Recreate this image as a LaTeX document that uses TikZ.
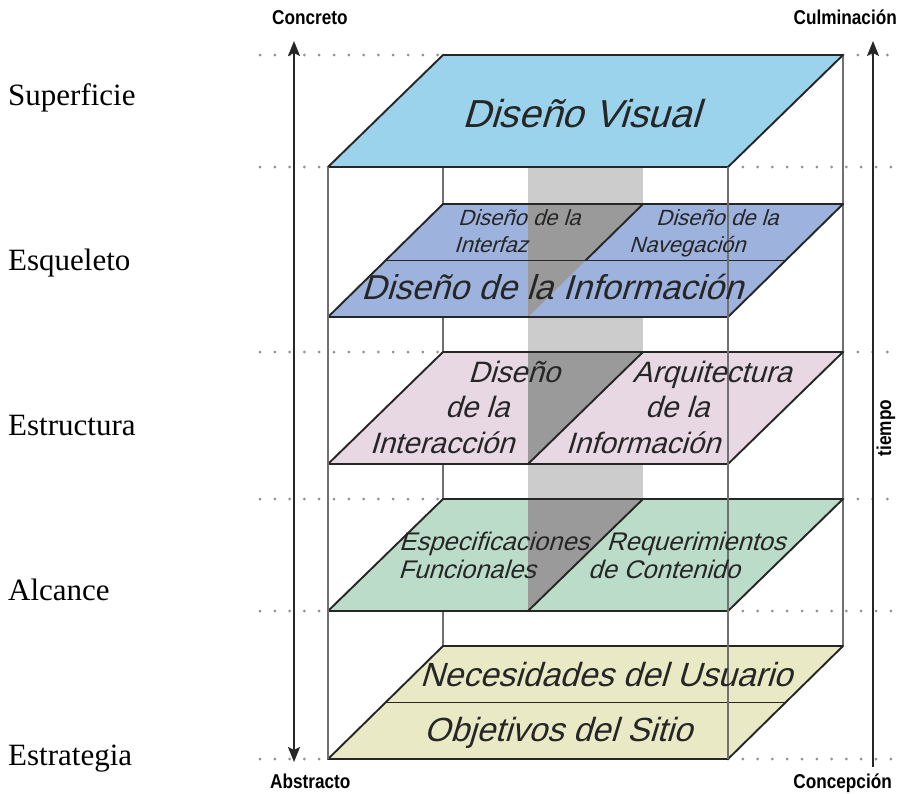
\documentclass[tikz,border=0pt]{standalone}
\usepackage{fontspec}
\setmainfont{Liberation Serif}
\newfontfamily\planefont{Liberation Sans}[FakeSlant=0.3]
\newfontfamily\tagfont{Liberation Sans}[FakeStretch=0.86]
\usetikzlibrary{arrows.meta,calc}

\definecolor{visualblue}{HTML}{9CD3EC}
\definecolor{skelblue}{HTML}{9DB2DC}
\definecolor{structpink}{HTML}{E8D8E3}
\definecolor{scopegreen}{HTML}{BBDCC8}
\definecolor{stratyellow}{HTML}{E9EAC5}
\definecolor{bandgray}{HTML}{CCCCCC}
\definecolor{shadegray}{HTML}{9A9A9A}
\definecolor{edgeink}{HTML}{262626}
\definecolor{wiregray}{HTML}{707070}
\definecolor{dotgray}{HTML}{8E8E8E}

\newcommand\sz[1]{\fontsize{#1}{#1}\selectfont}

% one horizontal layer of the box: name, top y, bottom y, fill colour
\newcommand\layer[4]{%
  \coordinate (#1-tl) at (443,#2);
  \coordinate (#1-tr) at (843,#2);
  \coordinate (#1-br) at (728,#3);
  \coordinate (#1-bl) at (328,#3);
  \coordinate (#1-tm) at (643,#2);
  \coordinate (#1-bm) at (528,#3);
  \coordinate (#1-ml) at ($(#1-tl)!0.5!(#1-bl)$);
  \coordinate (#1-mr) at ($(#1-tr)!0.5!(#1-br)$);
  \coordinate (#1-mm) at ($(#1-tm)!0.5!(#1-bm)$);
  \fill[#4] (#1-tl) -- (#1-tr) -- (#1-br) -- (#1-bl) -- cycle;
}

\begin{document}
\begin{tikzpicture}[x=1pt,y=-1pt,
  planeedge/.style={draw=edgeink,line width=1.9pt,line join=round},
  wire/.style={draw=wiregray,line width=1.4pt},
  levelguide/.style={draw=dotgray,line width=3pt,line cap=round,dash pattern=on 0pt off 14.8pt},
  ptext/.style={inner sep=0pt,anchor=base,font=\planefont,text=edgeink},
  sidelabel/.style={inner sep=0pt,anchor=base west,font=\sz{31}},
  endlabel/.style={inner sep=0pt,font=\tagfont\bfseries\sz{20}},
  axtip/.tip={Stealth[length=15pt,width=12pt,inset=3pt]},
  axis/.style={draw=edgeink,line width=1.9pt},
]
\fill[white] (0,0) rectangle (901,793);
\useasboundingbox (0,0) rectangle (901,793);

\coordinate (guideL) at (260,0);
\coordinate (guideR) at (901,0);

% layer geometry and fills
\layer{vis}{55}{167}{visualblue}
\layer{skel}{204}{317}{skelblue}
\layer{struct}{352}{464}{structpink}
\layer{scope}{499}{611}{scopegreen}
\layer{strat}{646}{759}{stratyellow}

% dotted level guides
\foreach \lv/\lc/\rc in {vis-tl/vis-tl/vis-tr, vis-bl/vis-bl/vis-br,
    struct-tl/struct-tl/struct-tr, scope-tl/scope-tl/scope-tr,
    scope-bl/scope-bl/scope-br, strat-bl/strat-bl/strat-br}{
  \draw[levelguide] (\lv -| guideL) -- (\lc);
  \draw[levelguide] (\rc) -- (\lv -| guideR);
}

% back edges of the box
\draw[wire] (vis-tl) -- (strat-tl);
\draw[wire] (vis-tr) -- (strat-tr);

% vertical band crossing the upper layers
\fill[bandgray] (vis-bm) rectangle (scope-tm |- scope-bm);

% layers redrawn over the band
\foreach \nm/\col in {vis/visualblue, skel/skelblue, struct/structpink, scope/scopegreen, strat/stratyellow}{
  \fill[\col] (\nm-tl) -- (\nm-tr) -- (\nm-br) -- (\nm-bl) -- cycle;
}
% shaded part where the band passes through a layer
\foreach \nm in {skel, struct, scope}{
  \fill[shadegray] (\nm-bm |- \nm-tm) -- (\nm-tm) -- (\nm-bm) -- cycle;
}

% outlines and inner divisions
\foreach \nm in {vis, skel, struct, scope, strat}{
  \draw[planeedge] (\nm-tl) -- (\nm-tr) -- (\nm-br) -- (\nm-bl) -- cycle;
}
\draw[planeedge] (skel-ml) -- (skel-mr);
\draw[planeedge] (skel-tm) -- (skel-mm);
\draw[planeedge] (struct-tm) -- (struct-bm);
\draw[planeedge] (scope-tm) -- (scope-bm);
\draw[planeedge] (strat-ml) -- (strat-mr);

% front edges of the box
\draw[wire] (vis-bl) -- (strat-bl);
\draw[wire] (vis-br) -- (strat-br);

% layer texts
\node[ptext,font=\planefont\sz{39}] (visual) at (581,127) {Diseño Visual};
\node[ptext,anchor=base west,font=\planefont\sz{22}] (intf1) at (458,225) {Diseño de la};
\node[ptext,anchor=base west,font=\planefont\sz{22}] (intf2) at (454,252) {Interfaz};
\node[ptext,anchor=base west,font=\planefont\sz{22}] (nav1) at (656,225) {Diseño de la};
\node[ptext,anchor=base west,font=\planefont\sz{22}] (nav2) at (629,252) {Navegación};
\node[ptext,font=\planefont\sz{34.5}] (info) at (552,299) {Diseño de la Información};

\node[ptext,font=\planefont\sz{29.5}] (inter1) at (514,382) {Diseño};
\node[ptext,font=\planefont\sz{29.5}] (inter2) at (477,417) {de la};
\node[ptext,font=\planefont\sz{29.5}] (inter3) at (442,453) {Interacción};
\node[ptext,font=\planefont\sz{29.5}] (arq1) at (712,382) {Arquitectura};
\node[ptext,font=\planefont\sz{29.5}] (arq2) at (677,417) {de la};
\node[ptext,font=\planefont\sz{29.5}] (arq3) at (643,453) {Información};

\node[ptext,font=\planefont\sz{25.5}] (spec1) at (494,550) {Especificaciones};
\node[ptext,font=\planefont\sz{25.5}] (spec2) at (467,578) {Funcionales};
\node[ptext,font=\planefont\sz{25.5}] (req1) at (696,550) {Requerimientos};
\node[ptext,font=\planefont\sz{25.5}] (req2) at (664,578) {de Contenido};

\node[ptext,font=\planefont\sz{33.5}] (needs) at (606,686) {Necesidades del Usuario};
\node[ptext,font=\planefont\sz{33.5}] (goals) at (558,741) {Objetivos del Sitio};

% plane names on the left
\node[sidelabel] (superficie) at (8,105) {Superficie};
\node[sidelabel] (esqueleto) at (8,270) {Esqueleto};
\node[sidelabel] (estructura) at (8,435) {Estructura};
\node[sidelabel] (alcance) at (8,600) {Alcance};
\node[sidelabel] (estrategia) at (8,765) {Estrategia};

% axes
\coordinate (absTop) at (294,41);
\coordinate (absBot) at (294,762);
\coordinate (timeTop) at (873,41);
\coordinate (timeBot) at (873,767);
\draw[axis,axtip-axtip] (absBot) -- (absTop);
\draw[axis,-axtip] (timeBot) -- (timeTop);

\node[endlabel,anchor=base west] (concreto) at (272,24) {Concreto};
\node[endlabel,anchor=base east] (culmina) at (897,24) {Culminación};
\node[endlabel,anchor=base west] (abstracto) at (270,788) {Abstracto};
\node[endlabel,anchor=base east] (concepcion) at (892,788) {Concepción};
\node[endlabel,rotate=90] (tiempo) at (886,428) {tiempo};
\end{tikzpicture}
\end{document}
